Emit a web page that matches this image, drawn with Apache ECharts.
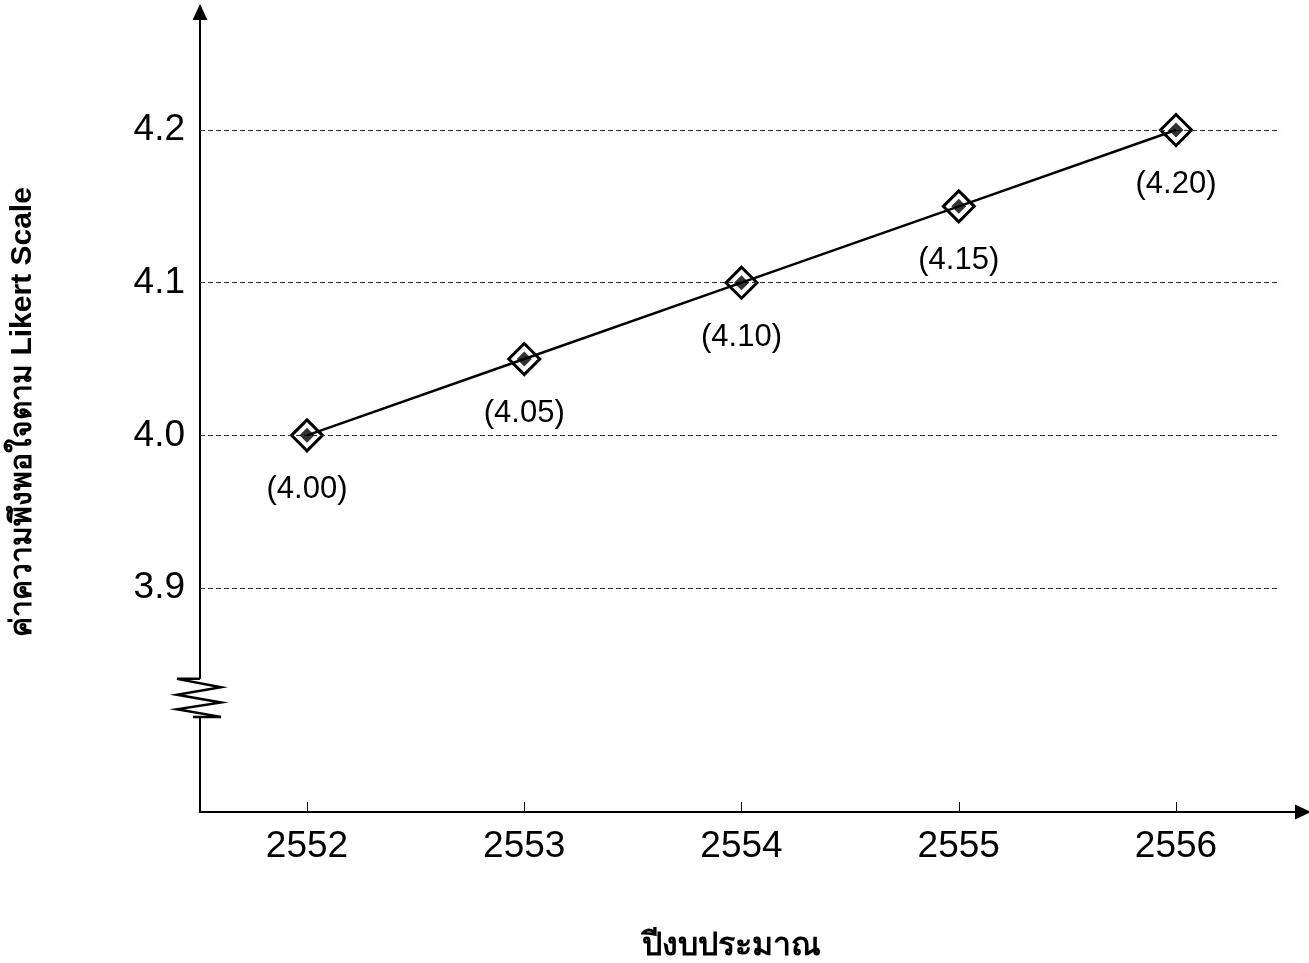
<!DOCTYPE html>
<html><head><meta charset="utf-8">
<script src="https://cdn.jsdelivr.net/npm/echarts@6/dist/echarts.min.js"></script>
<style>html,body{margin:0;padding:0;background:#fff}#c{width:1309px;height:963px}</style>
</head><body><div id="c"></div>
<script>
const years = [2552, 2553, 2554, 2555, 2556];
const scores = [4.00, 4.05, 4.10, 4.15, 4.20];
const scoreLabels = ['(4.00)', '(4.05)', '(4.10)', '(4.15)', '(4.20)'];
const yTicks = [3.9, 4.0, 4.1, 4.2];
const xTitle = 'ปีงบประมาณ';
const yTitle = 'ค่าความพึงพอใจตาม Likert Scale';

const X_MIN = 2551.5075, X_MAX = 2556.5845, GRID_END = 2556.479;
const Y_MIN = 3.7533, Y_MAX = 4.2773;
const BREAK_TOP = 3.8405, BREAK_BOTTOM = 3.8156;
const FONT = "'Liberation Sans', Arial, sans-serif";

const pts = years.map((y, i) => [y, scores[i]]);
const chart = echarts.init(document.getElementById('c'), null, {renderer: 'canvas'});
chart.setOption({
  animation: false,
  backgroundColor: '#fff',
  grid: {left: 200, right: 6, top: 12, bottom: 151, containLabel: false, outerBoundsMode: 'none'},
  xAxis: {
    type: 'value', min: X_MIN, max: X_MAX,
    axisLine: {show: true, lineStyle: {color: '#000', width: 2}, symbol: ['none', 'triangle'], symbolSize: [15, 16]},
    axisTick: {show: true, inside: true, length: 10, lineStyle: {color: '#000', width: 1}, customValues: years},
    axisLabel: {show: true, customValues: years, color: '#000', fontSize: 37, fontFamily: FONT, margin: 16, formatter: v => String(v)},
    splitLine: {show: false},
    name: xTitle, nameLocation: 'middle', nameGap: 118,
    nameTextStyle: {color: '#000', fontSize: 32, fontWeight: 'bold', fontFamily: FONT, padding: [0, 40, 0, 0]}
  },
  yAxis: {
    type: 'value', min: Y_MIN, max: Y_MAX,
    axisLine: {show: true, lineStyle: {color: '#000', width: 2}, symbol: ['none', 'triangle'], symbolSize: [15, 16]},
    axisTick: {show: false, customValues: yTicks},
    axisLabel: {show: true, customValues: yTicks, color: '#000', fontSize: 37, fontFamily: FONT, margin: 15, formatter: v => v.toFixed(1)},
    splitLine: {show: false},
    name: yTitle, nameLocation: 'middle', nameGap: 162, nameRotate: 90,
    nameTextStyle: {color: '#000', fontSize: 30, fontWeight: 'bold', fontFamily: FONT}
  },
  series: [
    {
      type: 'line', data: pts, z: 3,
      symbol: 'diamond', symbolSize: 31,
      itemStyle: {color: 'rgba(0,0,0,0)', borderColor: '#000', borderWidth: 3},
      lineStyle: {color: '#000', width: 2.5},
      label: {show: true, position: 'bottom', distance: 22, color: '#000', fontSize: 31, fontFamily: FONT,
        formatter: p => scoreLabels[p.dataIndex]},
      markLine: {
        silent: true, symbol: 'none', label: {show: false},
        lineStyle: {color: '#333', width: 1, type: [5, 3]},
        data: yTicks.map(v => [{coord: [X_MIN, v]}, {coord: [GRID_END, v]}])
      }
    },
    {
      type: 'scatter', data: pts, z: 5,
      symbol: 'diamond', symbolSize: 15,
      itemStyle: {color: '#000', borderWidth: 0}, silent: true
    }
  ]
});

function drawBreak() {
  const top = chart.convertToPixel({gridIndex: 0}, [X_MIN, BREAK_TOP]);
  const bot = chart.convertToPixel({gridIndex: 0}, [X_MIN, BREAK_BOTTOM]);
  const ax = top[0], y0 = top[1], y1 = bot[1];
  const h = (y1 - y0);
  const L = ax - 23, R = ax + 21;
  chart.setOption({
    graphic: [
      {type: 'rect', shape: {x: ax - 4, y: y0, width: 8, height: h}, style: {fill: '#fff'}, z: 10},
      {type: 'polyline', z: 11,
        shape: {points: [[ax, y0], [L, y0], [R, y0 + h * 0.22], [L, y0 + h * 0.42], [R, y0 + h * 0.62], [L, y0 + h * 0.8], [R, y1], [ax - 7, y1]]},
        style: {stroke: '#000', lineWidth: 2.5, fill: 'none'}}
    ]
  });
}
drawBreak();
</script></body></html>
